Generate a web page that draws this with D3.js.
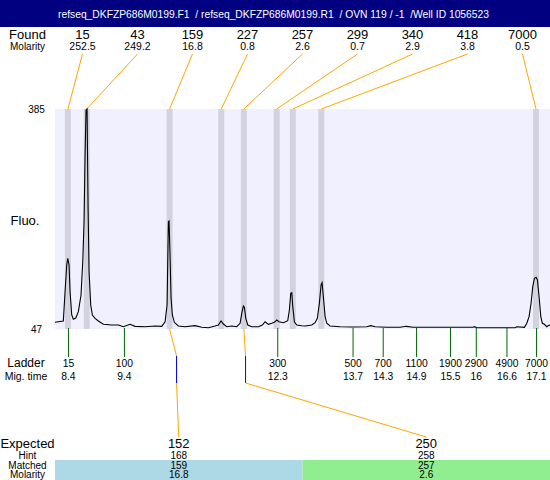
<!DOCTYPE html>
<html><head><meta charset="utf-8">
<script src="https://cdn.jsdelivr.net/npm/d3@7"></script>
<style>body{margin:0;background:#fff}svg{display:block}text{font-family:"Liberation Sans",Arial,sans-serif}</style>
</head><body><svg id="c" width="550" height="480"></svg>
<script>
const title = "refseq_DKFZP686M0199.F1  / refseq_DKFZP686M0199.R1  / OVN 119 / -1  /Well ID 1056523";

const foundSizes = [15, 43, 159, 227, 257, 299, 340, 418, 7000];
const foundMolarity = ["252.5", "249.2", "16.8", "0.8", "2.6", "0.7", "2.9", "3.8", "0.5"];
const foundTimes = [8.39, 8.74, 10.28, 11.24, 11.66, 12.27, 12.57, 13.10, 17.09];

const ladderSizes = [15, 100, 300, 500, 700, 1100, 1900, 2900, 4900, 7000];
const ladderTimes = [8.40, 9.44, 12.29, 13.69, 14.25, 14.87, 15.50, 15.98, 16.55, 17.10];

const expectedSizes = [152, 250];
const hintSizes = [168, 258];
const matchedSizes = [159, 257];
const matchedMolarity = ["16.8", "2.6"];
const matchedIndex = [2, 4];

const yTicks = [47, 385];

const traceTime = [
 8.150,8.305,8.337,8.368,8.387,8.411,8.430,8.461,8.491,8.536,
 8.584,8.634,8.666,8.690,8.709,8.727,8.746,8.764,8.783,8.814,
 8.844,8.894,8.956,9.049,9.205,9.328,9.420,9.545,9.638,9.824,
 10.010,10.134,10.196,10.233,10.257,10.270,10.288,10.307,10.331,10.368,
 10.443,10.567,10.753,10.878,11.000,11.125,11.186,11.236,11.279,11.342,
 11.435,11.528,11.590,11.621,11.651,11.670,11.696,11.733,11.807,11.930,
 12.004,12.054,12.116,12.179,12.227,12.272,12.314,12.394,12.476,12.506,
 12.532,12.551,12.569,12.599,12.643,12.736,12.798,12.922,12.984,13.026,
 13.064,13.095,13.114,13.138,13.170,13.201,13.262,13.448,13.696,13.945,
 14.019,14.099,14.316,14.564,14.675,14.811,15.121,15.920,15.945,15.989,
 16.701,16.733,16.874,16.919,16.961,16.998,17.030,17.060,17.091,17.116,
 17.147,17.179,17.208,17.245,17.290,17.333,17.350];
const traceFluo = [
 57.3,59.3,104.3,145.3,155.6,145.3,104.3,68.5,61.9,63.9,
 73.6,99.2,150.4,211.9,314.3,383.5,385,237.5,135.0,83.9,
 68.5,63.4,59.3,54.2,53.1,53.1,50.5,54.2,51.1,50.5,
 51.6,51.1,58.2,83.9,211.9,212.9,160.7,94.6,68.5,57.3,
 51.6,50.5,52.1,49.6,49.0,51.6,53.1,59.3,54.7,50.5,
 51.6,50.5,55.8,71.1,82.3,80.3,63.4,53.1,50.5,50.5,
 53.1,58.2,54.2,55.8,57.3,60.8,58.2,56.7,59.8,76.2,
 101.8,102.8,81.3,58.2,53.1,52.1,51.6,53.1,56.7,63.4,
 86.5,114.6,118.1,96.6,65.9,55.8,51.6,50.5,50.1,50.5,
 52.1,50.5,49.6,49.6,51.1,49.6,49.6,49.6,50.5,49.0,
 49.0,50.5,49.6,55.8,65.9,86.5,112.0,124.9,126.4,122.3,
 96.6,65.9,55.8,54.2,50.5,53.1,52.4];

const svg = d3.select("#c");
const P = {left: 55, right: 550, top: 109, bottom: 329};
const x = d3.scaleLinear().domain([8.15, 17.35]).range([P.left, P.right]);
const y = d3.scaleLinear().domain([47, 385]).range([P.bottom, P.top]);
const fBand = d3.scaleBand().domain(d3.range(foundSizes.length)).range([P.left, P.right]);
const eBand = d3.scaleBand().domain(d3.range(expectedSizes.length)).range([P.left, P.right]);
const sizeToTime = d3.scaleLinear().domain(ladderSizes).range(ladderTimes);
const ORANGE = "#ffa500";
const txt = (g, xx, yy, s, size, anchor) => g.append("text").attr("x", xx).attr("y", yy)
  .attr("dy", "0.35em").attr("text-anchor", anchor || "middle").attr("font-size", size).text(s);

// header
svg.append("rect").attr("x", 0).attr("y", 0).attr("width", 550).attr("height", 27).attr("fill", "#000080");
txt(svg, 273.5, 13.5, title, 11.5).attr("fill", "#fff").style("white-space", "pre")
  .attr("textLength", 431).attr("lengthAdjust", "spacingAndGlyphs");

// found row
txt(svg, 27.5, 34, "Found", 13);
txt(svg, 27.5, 46.5, "Molarity", 10);
const fc = i => fBand(i) + fBand.bandwidth() / 2;
foundSizes.forEach((s, i) => {
  txt(svg, fc(i), 34, s, 13);
  txt(svg, fc(i), 46.5, foundMolarity[i], 10.5);
  svg.append("line").attr("x1", fc(i)).attr("y1", 54).attr("x2", x(foundTimes[i])).attr("y2", P.top)
    .attr("stroke", ORANGE).attr("stroke-width", 1);
});

// plot
svg.append("rect").attr("x", P.left).attr("y", P.top).attr("width", P.right - P.left)
  .attr("height", P.bottom - P.top).attr("fill", "#f0f0ff");
svg.append("g").selectAll("rect").data(foundTimes).join("rect")
  .attr("x", d => x(d) - 3).attr("y", P.top).attr("width", 6).attr("height", P.bottom - P.top)
  .attr("fill", "#d3d3e0");

// y axis
const ya = svg.append("g").attr("transform", `translate(${P.left},0)`)
  .call(d3.axisLeft(y).tickValues(yTicks).tickSize(0).tickFormat(d3.format("d")));
ya.select(".domain").remove();
ya.selectAll("text").attr("x", -18.5).attr("text-anchor", "middle").attr("font-size", 10)
  .attr("font-family", '"Liberation Sans",Arial,sans-serif').attr("fill", "#000");
txt(svg, 25, 220, "Fluo.", 13);

// ladder
txt(svg, 26, 363, "Ladder", 12);
txt(svg, 26, 376.5, "Mig. time", 10.5);
ladderSizes.forEach((s, i) => {
  const xx = x(ladderTimes[i]);
  svg.append("line").attr("x1", xx).attr("x2", xx).attr("y1", P.bottom - 1).attr("y2", 357)
    .attr("stroke", "#006400").attr("stroke-width", 1);
  txt(svg, xx, 363, s, 10.3);
  txt(svg, xx, 376.5, String(+ladderTimes[i].toFixed(1)), 10.3);
});

// trace
const pts = traceTime.map((t, i) => [t, traceFluo[i]]);
svg.append("path").datum(pts)
  .attr("d", d3.line().x(d => x(d[0])).y(d => y(d[1])))
  .attr("fill", "none").attr("stroke", "#000").attr("stroke-width", 1.1);

// expected
svg.append("rect").attr("x", eBand(0)).attr("y", 460).attr("width", eBand.bandwidth()).attr("height", 20).attr("fill", "#add8e6");
svg.append("rect").attr("x", eBand(1)).attr("y", 460).attr("width", eBand.bandwidth()).attr("height", 20).attr("fill", "#90ee90");
txt(svg, 27.5, 443.5, "Expected", 13);
txt(svg, 27.5, 455, "Hint", 10);
txt(svg, 27.5, 465, "Matched", 10);
txt(svg, 27.5, 474.5, "Molarity", 10);
expectedSizes.forEach((s, i) => {
  const cx = eBand(i) + eBand.bandwidth() / 2;
  txt(svg, cx, 443.5, s, 13);
  txt(svg, cx, 455, hintSizes[i], 10);
  txt(svg, cx, 465, matchedSizes[i], 10);
  txt(svg, cx, 474.5, matchedMolarity[i], 10);
  const bx = x(foundTimes[matchedIndex[i]]);
  const hx = x(sizeToTime(hintSizes[i]));
  svg.append("line").attr("x1", bx).attr("y1", P.bottom).attr("x2", hx).attr("y2", 356).attr("stroke", ORANGE);
  svg.append("line").attr("x1", hx).attr("y1", 356).attr("x2", hx).attr("y2", 383).attr("stroke", "#0000ff");
  svg.append("line").attr("x1", hx).attr("y1", 383).attr("x2", cx).attr("y2", 437).attr("stroke", ORANGE);
});
</script></body></html>
